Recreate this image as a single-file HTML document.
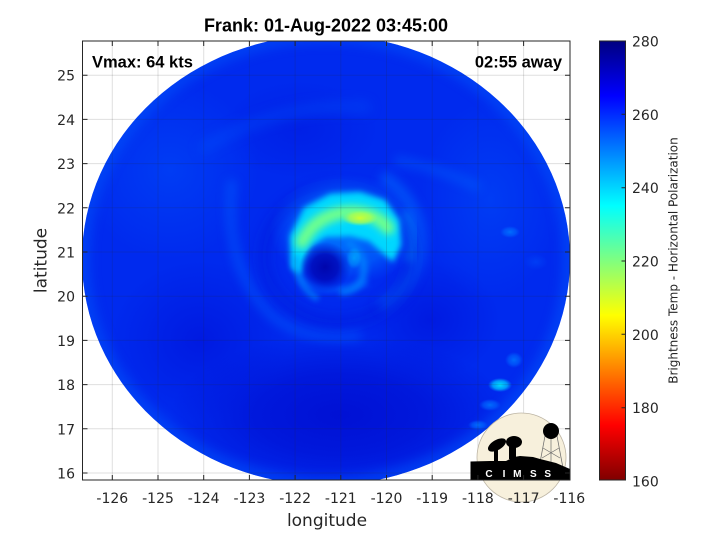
<!DOCTYPE html>
<html><head><meta charset="utf-8"><style>
html,body{margin:0;padding:0;background:#fff;}
svg{display:block;}
</style></head><body>
<svg width="720" height="540" viewBox="0 0 720 540" xmlns="http://www.w3.org/2000/svg">
<defs>
<clipPath id="plot"><rect x="82.5" y="41" width="487.5" height="439"/></clipPath>
<clipPath id="disk"><path d="M82 259 A244 224 0 0 1 570 259 A244 226 0 0 1 82 259 Z"/></clipPath>
<filter id="b2" x="-50%" y="-50%" width="200%" height="200%"><feGaussianBlur stdDeviation="2"/></filter>
<filter id="b3" x="-50%" y="-50%" width="200%" height="200%"><feGaussianBlur stdDeviation="3"/></filter>
<filter id="b4" x="-50%" y="-50%" width="200%" height="200%"><feGaussianBlur stdDeviation="4"/></filter>
<filter id="b5" x="-50%" y="-50%" width="200%" height="200%"><feGaussianBlur stdDeviation="5"/></filter>
<filter id="b6" x="-50%" y="-50%" width="200%" height="200%"><feGaussianBlur stdDeviation="6"/></filter>
<radialGradient id="gDark"><stop offset="0" stop-color="rgb(0,12,208)" stop-opacity="0.85"/><stop offset="0.5" stop-color="rgb(0,12,208)" stop-opacity="0.6"/><stop offset="1" stop-color="rgb(0,12,208)" stop-opacity="0"/></radialGradient>
<radialGradient id="gDark2"><stop offset="0" stop-color="rgb(0,22,222)" stop-opacity="0.8"/><stop offset="1" stop-color="rgb(0,22,222)" stop-opacity="0"/></radialGradient>
<radialGradient id="gEye"><stop offset="0" stop-color="rgb(0,5,172)" stop-opacity="1"/><stop offset="0.5" stop-color="rgb(0,8,185)" stop-opacity="0.85"/><stop offset="1" stop-color="rgb(0,15,205)" stop-opacity="0"/></radialGradient>
<radialGradient id="gLight"><stop offset="0" stop-color="rgb(0,115,255)" stop-opacity="0.9"/><stop offset="0.6" stop-color="rgb(0,100,255)" stop-opacity="0.6"/><stop offset="1" stop-color="rgb(0,90,255)" stop-opacity="0"/></radialGradient>
<radialGradient id="gHalo"><stop offset="0" stop-color="rgb(0,130,255)" stop-opacity="0.9"/><stop offset="0.65" stop-color="rgb(0,110,255)" stop-opacity="0.6"/><stop offset="1" stop-color="rgb(0,90,255)" stop-opacity="0"/></radialGradient>
<radialGradient id="gLight2"><stop offset="0" stop-color="rgb(0,72,248)" stop-opacity="0.6"/><stop offset="1" stop-color="rgb(0,72,248)" stop-opacity="0"/></radialGradient>
<radialGradient id="gCyan"><stop offset="0" stop-color="rgb(0,225,255)" stop-opacity="1"/><stop offset="0.6" stop-color="rgb(0,200,255)" stop-opacity="0.7"/><stop offset="1" stop-color="rgb(0,180,255)" stop-opacity="0"/></radialGradient>
<radialGradient id="gYellow"><stop offset="0" stop-color="rgb(205,255,50)" stop-opacity="1"/><stop offset="0.6" stop-color="rgb(180,255,70)" stop-opacity="0.7"/><stop offset="1" stop-color="rgb(150,255,100)" stop-opacity="0"/></radialGradient>
<linearGradient id="cb" x1="0" y1="0" x2="0" y2="1">
<stop offset="0" stop-color="rgb(0,0,128)"/>
<stop offset="0.125" stop-color="rgb(0,0,255)"/>
<stop offset="0.375" stop-color="rgb(0,255,255)"/>
<stop offset="0.625" stop-color="rgb(255,255,0)"/>
<stop offset="0.875" stop-color="rgb(255,0,0)"/>
<stop offset="1" stop-color="rgb(128,0,0)"/>
</linearGradient>
</defs>

<!-- satellite image -->
<g clip-path="url(#plot)">
<g clip-path="url(#disk)">
<rect x="60" y="20" width="530" height="480" fill="rgb(0,42,238)"/>
<!-- broad tone variations -->
<ellipse cx="340" cy="415" rx="170" ry="80" fill="url(#gDark)"/>
<ellipse cx="200" cy="340" rx="90" ry="80" fill="url(#gDark2)"/>
<ellipse cx="430" cy="320" rx="70" ry="60" fill="url(#gDark2)"/>
<ellipse cx="300" cy="130" rx="80" ry="50" fill="url(#gDark2)" opacity="0.6"/>
<ellipse cx="170" cy="170" rx="90" ry="90" fill="url(#gLight2)"/>
<ellipse cx="490" cy="200" rx="70" ry="100" fill="url(#gLight2)"/>
<!-- lighter rim -->
<path d="M82 259 A244 224 0 0 1 570 259 A244 226 0 0 1 82 259 Z" fill="none" stroke="rgb(0,100,255)" stroke-width="14" opacity="0.45" filter="url(#b6)"/>
<!-- spiral bands -->
<path d="M200 150 Q280 100 370 108" fill="none" stroke="rgb(0,95,255)" stroke-width="10" opacity="0.35" filter="url(#b6)"/>
<path d="M232 180 Q222 270 275 318 Q310 342 360 335" fill="none" stroke="rgb(0,100,255)" stroke-width="10" opacity="0.45" filter="url(#b5)"/>
<path d="M395 160 Q440 168 480 188" fill="none" stroke="rgb(0,105,255)" stroke-width="9" opacity="0.4" filter="url(#b5)"/>
<path d="M382 176 Q424 205 420 250 Q414 287 380 306" fill="none" stroke="rgb(0,110,255)" stroke-width="12" opacity="0.55" filter="url(#b5)"/>
<path d="M404 212 Q418 235 409 262" fill="none" stroke="rgb(0,180,255)" stroke-width="7" opacity="0.55" filter="url(#b4)"/>
<ellipse cx="510" cy="232" rx="10" ry="6" fill="url(#gLight)"/>
<ellipse cx="536" cy="262" rx="12" ry="8" fill="url(#gLight2)"/>
<ellipse cx="500" cy="385" rx="12" ry="7" fill="url(#gCyan)"/>
<ellipse cx="514" cy="360" rx="9" ry="8" fill="url(#gLight)"/>
<ellipse cx="490" cy="405" rx="11" ry="6" fill="url(#gLight)"/>
<ellipse cx="478" cy="425" rx="10" ry="5" fill="url(#gLight)"/>
<!-- dark moat -->
<ellipse cx="338" cy="256" rx="74" ry="66" fill="none" stroke="rgb(0,18,215)" stroke-width="14" opacity="0.4" filter="url(#b6)"/>
<!-- halo -->
<ellipse cx="345" cy="230" rx="75" ry="56" fill="url(#gHalo)"/>
<!-- main ring (crescent) -->
<path d="M291 268 L290 236 L304 208 L330 194 L360 192 L385 200 L399 220 L401 245 L393 262 L380 251 L369 241 L350 236 L326 237 L311 246 L304 262 L301 276 Z" fill="rgb(0,215,255)" filter="url(#b3)"/>
<!-- green arc -->
<path d="M302 242 Q316 214 350 212 Q375 212 388 228" fill="none" stroke="rgb(110,255,140)" stroke-width="13" stroke-linecap="round" filter="url(#b4)"/>
<ellipse cx="360" cy="218" rx="18" ry="8" fill="url(#gYellow)"/>
<!-- ring around eye bottom -->
<path d="M300 276 Q320 298 368 282" fill="none" stroke="rgb(0,95,255)" stroke-width="8" opacity="0.6" filter="url(#b3)"/>
<!-- eye -->
<ellipse cx="325" cy="267" rx="26" ry="25" fill="url(#gEye)"/>
<path d="M347 242 Q371 258 361 282 Q353 292 340 292" fill="none" stroke="rgb(0,135,255)" stroke-width="7" opacity="0.75" filter="url(#b3)"/>
<path d="M296 256 Q295 285 318 299" fill="none" stroke="rgb(0,145,255)" stroke-width="6" opacity="0.65" filter="url(#b3)"/>
<ellipse cx="354" cy="258" rx="8" ry="11" fill="url(#gCyan)" opacity="0.45"/>
</g>
</g>

<!-- grid -->
<g stroke="rgb(38,38,38)" stroke-opacity="0.15" stroke-width="1">
<line x1="112.3" y1="41" x2="112.3" y2="480"/>
<line x1="158" y1="41" x2="158" y2="480"/>
<line x1="203.7" y1="41" x2="203.7" y2="480"/>
<line x1="249.4" y1="41" x2="249.4" y2="480"/>
<line x1="295.1" y1="41" x2="295.1" y2="480"/>
<line x1="340.8" y1="41" x2="340.8" y2="480"/>
<line x1="386.5" y1="41" x2="386.5" y2="480"/>
<line x1="432.2" y1="41" x2="432.2" y2="480"/>
<line x1="477.9" y1="41" x2="477.9" y2="480"/>
<line x1="523.6" y1="41" x2="523.6" y2="480"/>
<line x1="82.5" y1="75.2" x2="570" y2="75.2"/>
<line x1="82.5" y1="119.4" x2="570" y2="119.4"/>
<line x1="82.5" y1="163.6" x2="570" y2="163.6"/>
<line x1="82.5" y1="207.8" x2="570" y2="207.8"/>
<line x1="82.5" y1="252" x2="570" y2="252"/>
<line x1="82.5" y1="296.2" x2="570" y2="296.2"/>
<line x1="82.5" y1="340.4" x2="570" y2="340.4"/>
<line x1="82.5" y1="384.6" x2="570" y2="384.6"/>
<line x1="82.5" y1="428.8" x2="570" y2="428.8"/>
<line x1="82.5" y1="473" x2="570" y2="473"/>
</g>

<!-- CIMSS logo -->
<g>
<circle cx="521.5" cy="457.5" r="44.5" fill="#f7f0dc" stroke="#bdb5a5" stroke-width="0.8"/>
<g stroke="#6b6b6b" stroke-width="0.7" fill="none">
<line x1="545" y1="436" x2="539" y2="468"/>
<line x1="557" y1="436" x2="563" y2="468"/>
<line x1="551" y1="438" x2="551" y2="468"/>
<line x1="543" y1="448" x2="560" y2="458"/>
<line x1="559" y1="448" x2="542" y2="458"/>
</g>
<circle cx="551" cy="431" r="8" fill="#000"/>
<ellipse cx="497" cy="445" rx="10" ry="5" transform="rotate(-30 497 445)" fill="#000"/>
<ellipse cx="514" cy="442" rx="8" ry="6" fill="#000"/>
<rect x="494" y="445" width="4" height="16" fill="#000"/>
<rect x="509" y="445" width="7" height="14" fill="#000"/>
<polygon points="470.5,480 470.5,461.5 490,461 506,461 514,457 520,456 533,457 540,459 556,463 570,469 570,480" fill="#000"/>
<g fill="#fff" font-family="Liberation Sans, sans-serif" font-size="10" font-weight="bold" text-anchor="middle">
<text x="489" y="477">C</text>
<text x="504" y="477">I</text>
<text x="517.3" y="477">M</text>
<text x="533.3" y="477">S</text>
<text x="547.7" y="477">S</text>
</g>
</g>

<!-- axes box + ticks -->
<rect x="82.5" y="41" width="487.5" height="439" fill="none" stroke="#262626" stroke-width="1"/>
<g stroke="#262626" stroke-width="1">
<path d="M112.3 480v-5M158 480v-5M203.7 480v-5M249.4 480v-5M295.1 480v-5M340.8 480v-5M386.5 480v-5M432.2 480v-5M477.9 480v-5M523.6 480v-5"/>
<path d="M112.3 41v5M158 41v5M203.7 41v5M249.4 41v5M295.1 41v5M340.8 41v5M386.5 41v5M432.2 41v5M477.9 41v5M523.6 41v5"/>
<path d="M82.5 75.2h5M82.5 119.4h5M82.5 163.6h5M82.5 207.8h5M82.5 252h5M82.5 296.2h5M82.5 340.4h5M82.5 384.6h5M82.5 428.8h5M82.5 473h5"/>
<path d="M570 75.2h-5M570 119.4h-5M570 163.6h-5M570 207.8h-5M570 252h-5M570 296.2h-5M570 340.4h-5M570 384.6h-5M570 428.8h-5M570 473h-5"/>
</g>

<!-- tick labels -->
<g font-family="DejaVu Sans, sans-serif" font-size="14" fill="#262626" text-anchor="middle">
<text x="112.3" y="503">-126</text>
<text x="158" y="503">-125</text>
<text x="203.7" y="503">-124</text>
<text x="249.4" y="503">-123</text>
<text x="295.1" y="503">-122</text>
<text x="340.8" y="503">-121</text>
<text x="386.5" y="503">-120</text>
<text x="432.2" y="503">-119</text>
<text x="477.9" y="503">-118</text>
<text x="523.6" y="503">-117</text>
<text x="569.3" y="503">-116</text>
</g>
<g font-family="DejaVu Sans, sans-serif" font-size="14" fill="#262626" text-anchor="end">
<text x="75" y="80.7">25</text>
<text x="75" y="124.9">24</text>
<text x="75" y="169.1">23</text>
<text x="75" y="213.3">22</text>
<text x="75" y="257.5">21</text>
<text x="75" y="301.7">20</text>
<text x="75" y="345.9">19</text>
<text x="75" y="390.1">18</text>
<text x="75" y="434.3">17</text>
<text x="75" y="478.5">16</text>
</g>

<!-- axis labels -->
<text x="327" y="526" font-family="DejaVu Sans, sans-serif" font-size="17" fill="#262626" text-anchor="middle">longitude</text>
<text transform="translate(46.5 260.5) rotate(-90)" font-family="DejaVu Sans, sans-serif" font-size="17" fill="#262626" text-anchor="middle">latitude</text>

<!-- title & annotations -->
<text x="326" y="31.7" font-family="Liberation Sans, sans-serif" font-size="18" font-weight="bold" fill="#000" text-anchor="middle">Frank: 01-Aug-2022 03:45:00</text>
<text x="92" y="67.5" font-family="Liberation Sans, sans-serif" font-size="16.5" font-weight="bold" fill="#000">Vmax: 64 kts</text>
<text x="562" y="67.5" font-family="Liberation Sans, sans-serif" font-size="16.5" font-weight="bold" fill="#000" text-anchor="end">02:55 away</text>

<!-- colorbar -->
<rect x="599.5" y="41" width="26" height="439" fill="url(#cb)" stroke="#262626" stroke-width="1"/>
<g stroke="#262626" stroke-width="1">
<path d="M625.5 114.3h-4M625.5 187.7h-4M625.5 261h-4M625.5 334.3h-4M625.5 407.7h-4"/>
</g>
<g font-family="DejaVu Sans, sans-serif" font-size="14" fill="#262626">
<text x="632" y="46.5">280</text>
<text x="632" y="119.8">260</text>
<text x="632" y="193.2">240</text>
<text x="632" y="266.5">220</text>
<text x="632" y="339.8">200</text>
<text x="632" y="413.2">180</text>
<text x="632" y="486.5">160</text>
</g>
<text transform="translate(677.3 260.5) rotate(-90)" font-family="DejaVu Sans, sans-serif" font-size="12" fill="#262626" text-anchor="middle">Brightness Temp - Horizontal Polarization</text>
</svg>
</body></html>
